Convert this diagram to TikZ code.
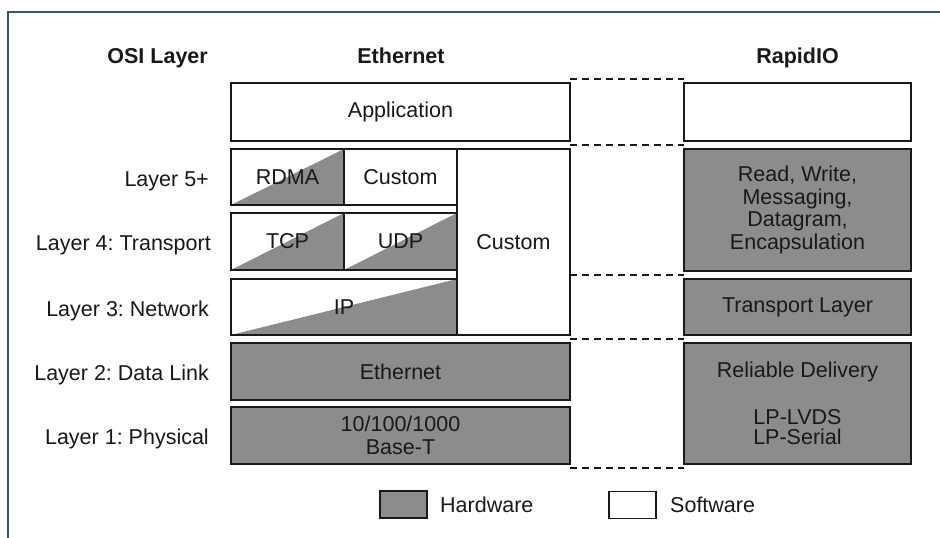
\documentclass[tikz,border=0pt]{standalone}
\usepackage{fontspec}
\setmainfont{Liberation Sans}
\definecolor{hw}{RGB}{142,139,141}
\definecolor{framec}{RGB}{58,88,98}
\definecolor{ink}{RGB}{25,25,25}
\frenchspacing
\begin{document}
\frenchspacing
\begin{tikzpicture}[x=1pt,y=-1pt,
  every node/.style={text=ink},
  lbl/.style={font=\fontsize{21.5}{23}\selectfont, inner sep=0pt},
  hdr/.style={font=\fontsize{21.5}{23}\selectfont\bfseries, inner sep=0pt},
  box/.style={draw=ink, line width=1.3pt, fill=white, inner sep=0pt, align=center,
    font=\fontsize{21.5}{22.5}\selectfont},
  hwbox/.style={box, fill=hw},
  halfbox/.style={box, path picture={\fill[hw] (path picture bounding box.south west) -- (path picture bounding box.north east) -- (path picture bounding box.south east) -- cycle;}},
  dashline/.style={draw=ink, line width=1.3pt, dash pattern=on 7pt off 5pt},
  framel/.style={draw=framec, line width=2.5pt}
]
\useasboundingbox (0,0) rectangle (940,538);
\fill[white] (0,0) rectangle (940,538);
\draw[framel] (8,538) -- (8,12) -- (940,12);

% headers
\node[hdr, anchor=base east] (hosi) at (208,63) {OSI Layer};
\node[hdr, anchor=base] (heth) at (401,63) {Ethernet};
\node[hdr, anchor=base] (hrio) at (797.5,63) {RapidIO};

% row labels
\node[lbl, anchor=base east] (l5) at (209,186) {Layer 5+};
\node[lbl, anchor=base east] (l4) at (211,250) {Layer 4: Transport};
\node[lbl, anchor=base east] (l3) at (209,316) {Layer 3: Network};
\node[lbl, anchor=base east] (l2) at (209,380) {Layer 2: Data Link};
\node[lbl, anchor=base east] (l1) at (209,444) {Layer 1: Physical};

% Ethernet stack
\node[box, minimum width=339pt, minimum height=58pt] (app) at (400.5,112) {Application};
\node[halfbox, minimum width=113pt, minimum height=56pt] (rdma) at (287.5,177) {RDMA};
\node[box, minimum width=113pt, minimum height=56pt] (cust5) at (400.5,177) {Custom};
\node[box, minimum width=113pt, minimum height=186pt] (custT) at (513.5,242) {Custom};
\node[halfbox, minimum width=113pt, minimum height=57pt] (tcp) at (287.5,241.5) {TCP};
\node[halfbox, minimum width=113pt, minimum height=57pt] (udp) at (400.5,241.5) {UDP};
\node[halfbox, minimum width=226pt, minimum height=56pt] (ip) at (344,307) {IP};
\node[hwbox, minimum width=339pt, minimum height=57pt] (eth) at (400.5,371.5) {Ethernet};
\node[hwbox, minimum width=339pt, minimum height=57pt] (phy) at (400.5,435.5) {10/100/1000\\Base-T};

% RapidIO stack
\node[box, minimum width=227pt, minimum height=58pt] (rapp) at (797.5,112) {};
\node[hwbox, minimum width=227pt, minimum height=122pt] (rrw) at (797.5,210) {Read, Write,\\Messaging,\\Datagram,\\Encapsulation};
\node[hwbox, minimum width=227pt, minimum height=56pt] (rtl) at (797.5,307) {Transport Layer};
\node[hwbox, minimum width=227pt, minimum height=121pt, font=\fontsize{21.5}{20.5}\selectfont] (rrd) at (797.5,403.5) {Reliable Delivery\\[26pt]LP-LVDS\\LP-Serial};

% dashed correspondence lines
\coordinate (da1) at (570,79);  \coordinate (db1) at (684,79);
\coordinate (da2) at (570,145); \coordinate (db2) at (684,145);
\coordinate (da3) at (570,275); \coordinate (db3) at (684,275);
\coordinate (da4) at (570,339); \coordinate (db4) at (684,339);
\coordinate (da5) at (570,468); \coordinate (db5) at (684,468);
\foreach \i in {1,...,5} \draw[dashline] (da\i) -- (db\i);

% legend
\node[hwbox, minimum width=47pt, minimum height=27pt] (hwkey) at (403.5,504.5) {};
\node[lbl, anchor=base west] (hwtxt) at (440,512) {Hardware};
\node[box, minimum width=47pt, minimum height=27pt] (swkey) at (632.5,505) {};
\node[lbl, anchor=base west] (swtxt) at (670,512) {Software};
\end{tikzpicture}
\end{document}
